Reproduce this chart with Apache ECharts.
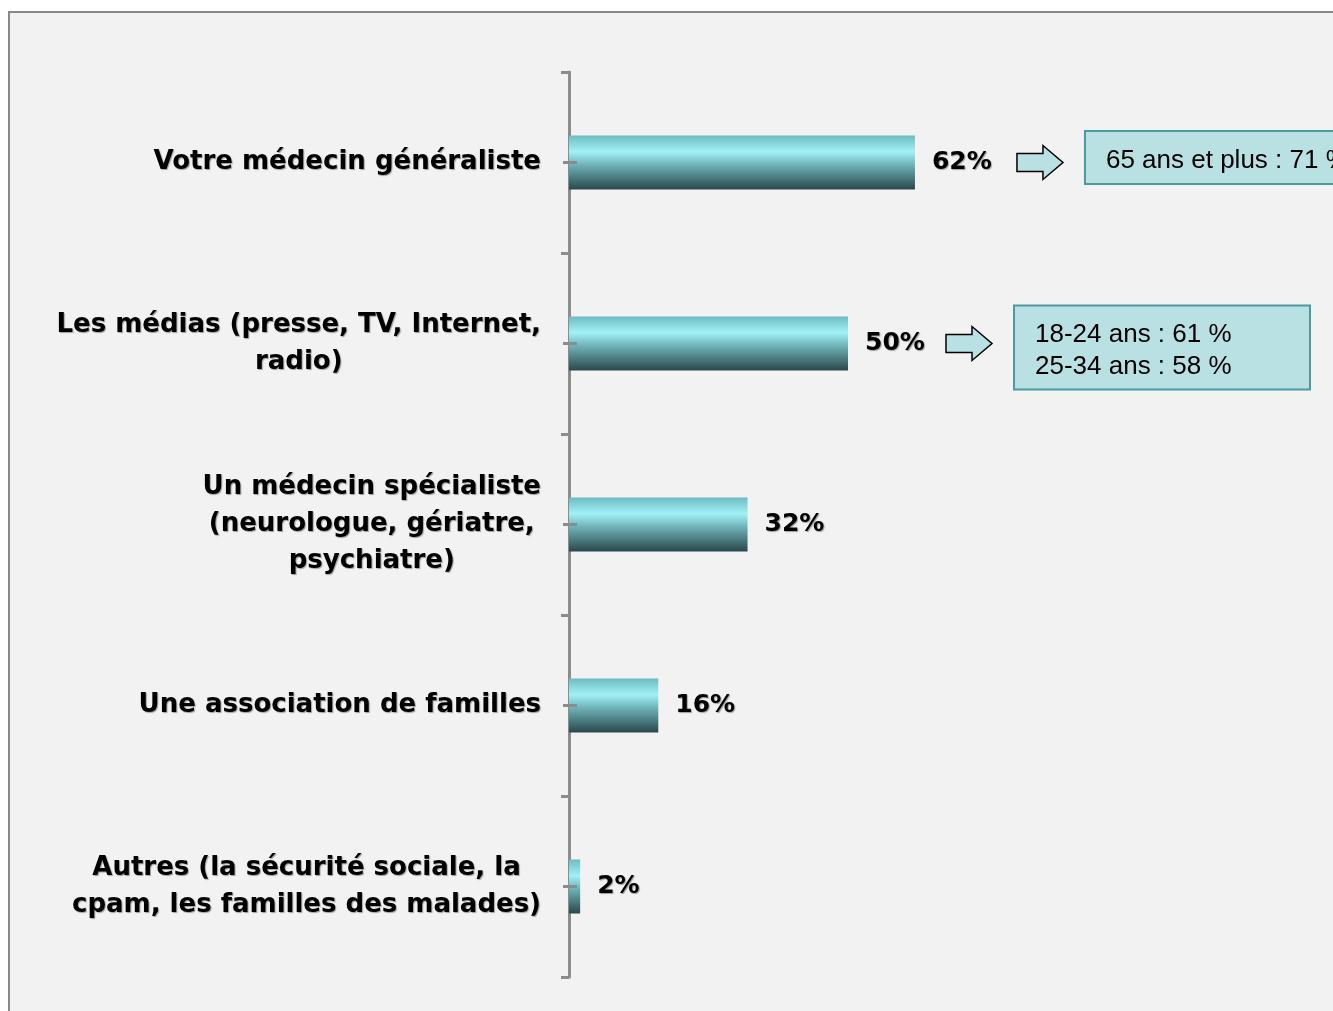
<!DOCTYPE html>
<html>
<head>
<meta charset="utf-8">
<script src="https://cdn.jsdelivr.net/npm/echarts@6/dist/echarts.min.js"></script>
<style>
  html, body { margin: 0; padding: 0; background: #fff; }
  #main { width: 1333px; height: 1011px; }
</style>
</head>
<body>
<div id="main"></div>
<script>
var categories = [
  'Votre médecin généraliste',
  'Les médias (presse, TV, Internet,\nradio)',
  'Un médecin spécialiste\n(neurologue, gériatre,\npsychiatre)',
  'Une association de familles',
  'Autres (la sécurité sociale, la\ncpam, les familles des malades)'
];
var values = [62, 50, 32, 16, 2];
// encadrés de détail par tranche d'âge (index de la barre -> lignes)
var noteBars = [0, 1];
var noteLines = [
  ['65 ans et plus : 71 %'],
  ['18-24 ans : 61 %', '25-34 ans : 58 %']
];

var chartDom = document.getElementById('main');
var myChart = echarts.init(chartDom);
var axisColor = '#8c8c8c';

var labelFont = {
  fontFamily: 'DejaVu Sans',
  fontWeight: 'bold',
  color: '#000',
  textShadowColor: 'rgba(0,0,0,0.35)',
  textShadowBlur: 1,
  textShadowOffsetX: 1,
  textShadowOffsetY: 1
};

var option = {
  backgroundColor: '#fff',
  animation: false,
  grid: {
    left: 569,
    right: 206,
    top: 72,
    bottom: 34
  },
  xAxis: {
    type: 'value',
    min: 0,
    max: 100,
    show: false
  },
  yAxis: [
    {
      type: 'category',
      inverse: true,
      data: categories,
      axisLine: { show: true, lineStyle: { color: axisColor, width: 3 } },
      axisTick: { show: true, length: 8, lineStyle: { color: axisColor, width: 3 } },
      axisLabel: {
        margin: 28,
        fontSize: 26,
        lineHeight: 37,
        formatter: function (v) {
          return v.split('\n').map(function (l) { return '{c|' + l + '}'; }).join('\n');
        },
        rich: {
          c: Object.assign({ align: 'center', fontSize: 26, lineHeight: 37 }, labelFont)
        }
      }
    },
    {
      // petits repères au centre de chaque barre
      type: 'category',
      inverse: true,
      position: 'left',
      offset: -8,
      z: 5,
      data: categories,
      axisLine: { show: false },
      axisLabel: { show: false },
      axisTick: { show: true, alignWithLabel: true, length: 14, lineStyle: { color: axisColor, width: 3 } }
    }
  ],
  series: [
    {
      type: 'bar',
      data: values,
      barWidth: 54,
      itemStyle: {
        color: new echarts.graphic.LinearGradient(0, 0, 0, 1, [
          { offset: 0, color: '#6cbcc1' },
          { offset: 0.3, color: '#a2f1f6' },
          { offset: 0.55, color: '#6db1b6' },
          { offset: 1, color: '#2a484b' }
        ])
      },
      label: Object.assign({
        show: true,
        position: 'right',
        distance: 17,
        formatter: '{c}%',
        fontSize: 25
      }, labelFont)
    }
  ]
};
myChart.setOption(option);

// cadre de fond
var elements = [
  {
    type: 'rect',
    z: -10,
    shape: { x: 9, y: 12, width: 1400, height: 1100 },
    style: { fill: '#f2f2f2', stroke: '#888', lineWidth: 2 }
  }
];

// flèches + encadrés positionnés d'après l'extrémité des barres
var arrowGap = [102, 98];
var boxShift = [-5, 4];
var boxWidth = [400, 296];
noteBars.forEach(function (idx, k) {
  var p = myChart.convertToPixel({ seriesIndex: 0 }, [values[idx], idx]);
  var ax = p[0] + arrowGap[k];
  var ay = p[1];
  elements.push({
    type: 'polygon',
    shape: {
      points: [
        [ax, ay - 9], [ax + 26, ay - 9], [ax + 26, ay - 17], [ax + 46, ay],
        [ax + 26, ay + 17], [ax + 26, ay + 9], [ax, ay + 9]
      ]
    },
    style: { fill: '#b9e0e3', stroke: '#000', lineWidth: 1.5 }
  });
  var lines = noteLines[k];
  var boxH = lines.length === 1 ? 53 : 84;
  var bx = ax + 68;
  var by = ay - boxH / 2 + boxShift[k];
  elements.push({
    type: 'rect',
    shape: { x: bx, y: by, width: boxWidth[k], height: boxH },
    style: { fill: '#b9e0e3', stroke: '#4a9a9e', lineWidth: 2 }
  });
  elements.push({
    type: 'text',
    x: bx + 21,
    y: by + boxH / 2 + 3,
    style: {
      text: lines.join('\n'),
      fontFamily: 'Liberation Sans',
      fontSize: 26,
      lineHeight: 32,
      fill: '#000',
      verticalAlign: 'middle',
      align: 'left'
    }
  });
});

myChart.setOption({ graphic: { elements: elements } });
</script>
</body>
</html>
